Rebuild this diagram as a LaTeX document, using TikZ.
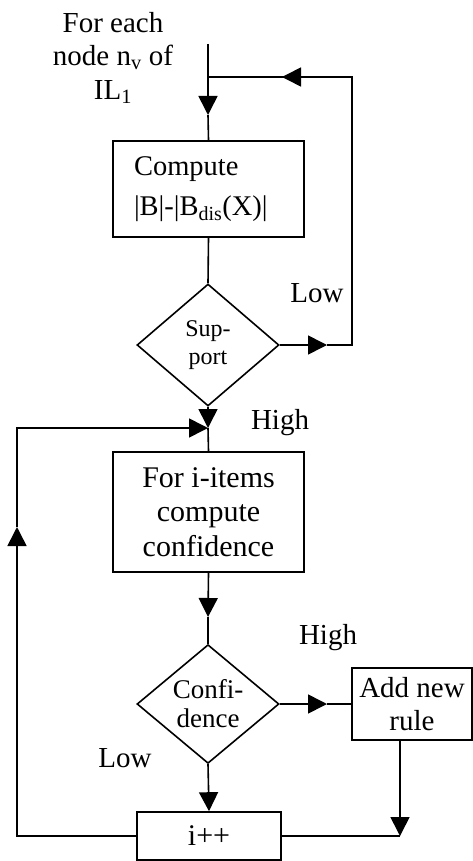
\documentclass[tikz,border=0pt]{standalone}
\usepackage{fontspec}
\setmainfont{Liberation Serif}
\usetikzlibrary{shapes.geometric,arrows.meta}
\tikzset{
  every path/.style={line width=1.6pt},
  boxnode/.style={draw,rectangle,line width=1.6pt,inner sep=0pt,align=center,font=\fontsize{30}{34.5}\selectfont},
  decnode/.style={draw,diamond,line width=1.6pt,inner sep=0pt,align=center},
  lbl/.style={font=\fontsize{29}{34}\selectfont,inner sep=0pt},
  arr/.style={-{Triangle[length=19pt,width=19pt]}},
}
\begin{document}
\begin{tikzpicture}[x=1pt,y=-1pt]
\useasboundingbox (0,0) rectangle (473,861);
% nodes
\node[lbl,align=center,font=\fontsize{29}{33.5}\selectfont] (start) at (113,58) {For each\\node n\textsubscript{v} of\\IL\textsubscript{1}};
\node[boxnode,minimum width=191pt,minimum height=96pt,text width=149pt,align=left,font=\fontsize{28.5}{40}\selectfont] (comp) at (208.5,189) {Compute\\|B|-|B\textsubscript{dis}(X)|};
\node[decnode,minimum width=142pt,minimum height=122pt,font=\fontsize{24}{28}\selectfont] (supp) at (208,345) {Sup-\\port};
\node[boxnode,minimum width=191pt,minimum height=120pt] (conf) at (208.5,512) {For i-items\\compute\\confidence};
\node[decnode,minimum width=142pt,minimum height=118pt,font=\fontsize{27}{29}\selectfont] (cdec) at (208,704) {Confi-\\dence};
\node[boxnode,minimum width=120pt,minimum height=72pt,font=\fontsize{29}{33}\selectfont] (add) at (412,704) {Add new\\rule};
\node[boxnode,minimum width=144pt,minimum height=48pt] (inc) at (209,836) {i++};
% labels
\node[lbl] (low1) at (317,293) {Low};
\node[lbl] (high1) at (280,423) {High};
\node[lbl] (high2) at (328,638) {High};
\node[lbl] (low2) at (125,758) {Low};
% coordinates
\coordinate (top) at (208,44);
\coordinate (t1) at (208,115);
\coordinate (j1) at (208,77);
\coordinate (r1) at (352,345);
\coordinate (r2) at (352,77);
\coordinate (t2) at (282,77);
\coordinate (t3) at (327,345);
\coordinate (t4) at (208,428);
\coordinate (l1) at (17,836);
\coordinate (l2) at (17,428);
\coordinate (t5) at (17,527);
\coordinate (t6) at (208,617);
\coordinate (t7) at (327,704);
\coordinate (a1) at (400,740);
\coordinate (a2) at (400,836);
% connectors
\draw[arr] (top) -- (t1);
\draw (t1) -- (comp.north);
\draw (comp.south) -- (supp.north);
\draw[arr] (supp.east) -- (t3);
\draw (t3) -- (r1) -- (r2) -- (t2);
\draw[arr] (r2) -- (t2);
\draw (t2) -- (j1);
\draw[arr] (supp.south) -- (t4);
\draw (t4) -- (conf.north);
\draw[arr] (inc.west) -- (l1) -- (t5);
\draw[arr] (t5) -- (l2) -- (t4);
\draw[arr] (conf.south) -- (t6);
\draw (t6) -- (cdec.north);
\draw[arr] (cdec.east) -- (t7);
\draw (t7) -- (add.west);
\draw[arr] (a1) -- (a2);
\draw (inc.east) -- (a2);
\draw[arr] (cdec.south) -- (inc.north);
\end{tikzpicture}
\end{document}
